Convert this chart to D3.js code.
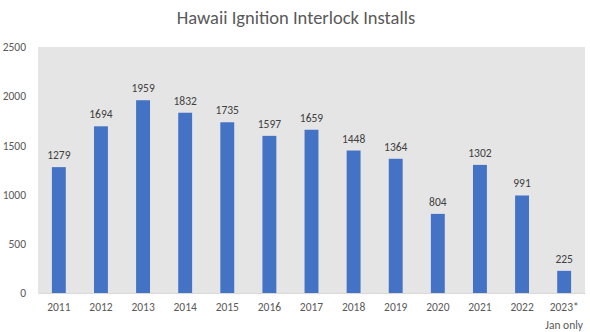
<!DOCTYPE html>
<html>
<head>
<meta charset="utf-8">
<script src="https://cdn.jsdelivr.net/npm/d3@7"></script>
<style>
  html, body { margin: 0; padding: 0; background: #fff; }
  svg { display: block; }
</style>
</head>
<body>
<svg id="chart" width="590" height="332"></svg>
<script>
// Yearly installs; 2023 covers January only
const years = ["2011", "2012", "2013", "2014", "2015", "2016", "2017", "2018", "2019", "2020", "2021", "2022", "2023*"];
const installs = [1279, 1694, 1959, 1832, 1735, 1597, 1659, 1448, 1364, 804, 1302, 991, 225];
const yTicks = [0, 500, 1000, 1500, 2000, 2500];
const title = "Hawaii Ignition Interlock Installs";
const footnote = "Jan only";

const font = "Carlito, Calibri, 'Open Sans', 'Liberation Sans', sans-serif";
const svg = d3.select("#chart");

const margin = { left: 38, right: 5, top: 47, bottom: 39 };
const W = 590, H = 332;

const x = d3.scaleBand()
  .domain(years)
  .range([margin.left, W - margin.right])
  .paddingInner(0.67)
  .paddingOuter(0.33);

const y = d3.scaleLinear()
  .domain([0, 2500])
  .range([H - margin.bottom, margin.top]);

// plot background
svg.append("rect")
  .attr("x", margin.left)
  .attr("y", y(2500))
  .attr("width", W - margin.right - margin.left)
  .attr("height", y(0) - y(2500))
  .attr("fill", "#e5e5e5");

// title
svg.append("text")
  .attr("x", 296)
  .attr("y", 24)
  .attr("text-anchor", "middle")
  .attr("font-family", font)
  .attr("font-size", 18.5)
  .attr("fill", "#595959")
  .text(title);

// y axis labels
const yAxis = d3.axisLeft(y).tickValues(yTicks).tickFormat(d3.format("d")).tickSize(0).tickPadding(12);
const gy = svg.append("g")
  .attr("transform", `translate(${margin.left},0)`)
  .call(yAxis);
gy.select(".domain").remove();
gy.selectAll("text")
  .attr("font-family", font)
  .attr("font-size", 11.5)
  .attr("fill", "#595959");

// bars
svg.append("g").selectAll("rect")
  .data(installs)
  .join("rect")
  .attr("x", (d, i) => x(years[i]))
  .attr("y", d => y(d))
  .attr("width", x.bandwidth())
  .attr("height", d => y(0) - y(d))
  .attr("fill", "#4472c4");

// value labels
svg.append("g").selectAll("text")
  .data(installs)
  .join("text")
  .attr("x", (d, i) => x(years[i]) + x.bandwidth() / 2)
  .attr("y", d => y(d) - 8)
  .attr("text-anchor", "middle")
  .attr("font-family", font)
  .attr("font-size", 11.5)
  .attr("fill", "#404040")
  .text(d => d);

// x axis
const xAxis = d3.axisBottom(x).tickSize(0).tickPadding(10);
const gx = svg.append("g")
  .attr("transform", `translate(0,${y(0)})`)
  .call(xAxis);
gx.select(".domain")
  .attr("stroke", "#d9d9d9")
  .attr("stroke-width", 1);
gx.selectAll("text")
  .attr("font-family", font)
  .attr("font-size", 11.5)
  .attr("fill", "#595959");

// footnote under the last category
svg.append("text")
  .attr("x", x(years[years.length - 1]) + x.bandwidth() / 2)
  .attr("y", y(0) + 36)
  .attr("text-anchor", "middle")
  .attr("font-family", font)
  .attr("font-size", 11.5)
  .attr("fill", "#595959")
  .text(footnote);
</script>
</body>
</html>
